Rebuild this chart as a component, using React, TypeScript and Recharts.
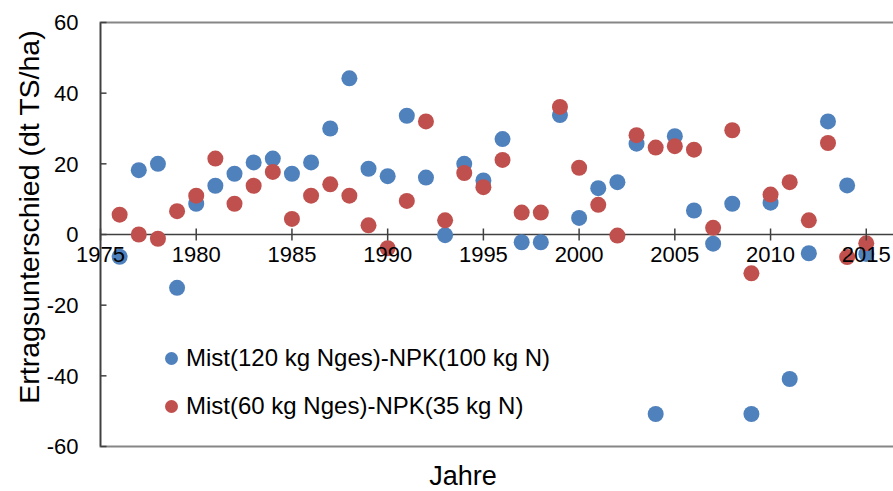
import React from 'react';
import { ScatterChart, Scatter, XAxis, YAxis, ReferenceLine, ReferenceArea } from 'recharts';

const years = [1976,1977,1978,1979,1980,1981,1982,1983,1984,1985,1986,1987,1988,1989,1990,1991,1992,1993,1994,1995,1996,1997,1998,1999,2000,2001,2002,2003,2004,2005,2006,2007,2008,2009,2010,2011,2012,2013,2014,2015];
const blueValues = [-6.3,18.2,20.0,-15.1,8.7,13.8,17.2,20.4,21.5,17.2,20.4,30.0,44.2,18.6,16.5,33.6,16.1,-0.2,20.0,15.3,27.0,-2.2,-2.2,33.8,4.7,13.1,14.8,25.7,-50.8,27.8,6.8,-2.6,8.7,-50.8,9.0,-40.9,-5.3,32.0,13.9,-5.5];
const redValues = [5.6,0.0,-1.2,6.6,11.0,21.5,8.7,13.8,17.7,4.4,11.0,14.2,11.0,2.6,-3.9,9.5,32.0,4.0,17.4,13.4,21.1,6.2,6.2,36.1,18.9,8.4,-0.3,28.1,24.6,25.0,24.0,1.9,29.5,-11.0,11.3,14.8,4.0,25.9,-6.4,-2.5];
const xTicks = [1975,1980,1985,1990,1995,2000,2005,2010,2015];
const yTicks = [-60,-40,-20,0,20,40,60];
const seriesNames = ['Mist(120 kg Nges)-NPK(100 kg N)', 'Mist(60 kg Nges)-NPK(35 kg N)'];

const BLUE = '#4F81BD';
const RED = '#C0504D';
const FONT = '"Liberation Sans", Arial, sans-serif';

const blueData = years.map((y, i) => ({ x: y, y: blueValues[i] }));
const redData = years.map((y, i) => ({ x: y, y: redValues[i] }));
// x-axis crosses at y = 0: ticks/labels placed through the scales on top of the points
const xTickData = xTicks.map((t) => ({ x: t, y: 0 }));

const W = 962;
const H = 491;
const M = { top: 22.5, right: 0, left: 40.5, bottom: 0 };
const Y_W = 60;
const X_H = 44.5;
const Y_MIN = -60;
const Y_MAX = 60;
const plotTop = M.top;
const plotH = H - M.top - M.bottom - X_H;
const plotBottomY = plotTop + plotH;

const XTickMark = (props: any) => {
  const { cx, cy, payload } = props;
  return (
    <g>
      <line x1={cx} x2={cx} y1={cy - 6} y2={cy + 6} stroke="#404040" strokeWidth={1.5} />
      <text x={cx} y={cy + 27} textAnchor="middle" fontFamily={FONT} fontSize={22} fill="#000">
        {payload.x}
      </text>
    </g>
  );
};

const YTick = (props: any) => {
  const { x, y, payload } = props;
  const axisX = x + 8;
  return (
    <g>
      <line x1={axisX} x2={axisX + 6} y1={y} y2={y} stroke="#404040" strokeWidth={1.5} />
      <text x={axisX - 22} y={y} dy="0.36em" textAnchor="end" fontFamily={FONT} fontSize={22} fill="#000">
        {payload.value}
      </text>
    </g>
  );
};

const Dot = (color: string) => (props: any) => (
  <circle cx={props.cx} cy={props.cy} r={8} fill={color} />
);

const LegendBox = () => (
  <div style={{ position: 'absolute', left: 165, top: 334, fontFamily: FONT, fontSize: 24, color: '#000', lineHeight: 1 }}>
    {[BLUE, RED].map((c, i) => (
      <div key={i} style={{ display: 'flex', alignItems: 'center', height: 48, whiteSpace: 'nowrap' }}>
        <span style={{ display: 'inline-block', width: 13, height: 13, borderRadius: '50%', background: c, marginRight: 8 }} />
        <span>{seriesNames[i]}</span>
      </div>
    ))}
  </div>
);

export default function App() {
  return (
    <div style={{ position: 'fixed', left: 0, top: 0, width: 893, height: 491, overflow: 'hidden', background: '#fff' }}>
      <ScatterChart width={W} height={H} margin={M}>
        <ReferenceArea x1={1975} x2={2020} y1={Y_MIN} y2={Y_MAX} fill="none" stroke="#868686" strokeWidth={2} ifOverflow="visible" />
        <ReferenceLine y={0} stroke="#404040" strokeWidth={1.5} />
        <XAxis
          type="number"
          dataKey="x"
          domain={[1975, 2020]}
          ticks={xTicks}
          height={X_H}
          axisLine={false}
          tickLine={false}
          tick={false}
          label={{
            content: () => (
              <text x={463} y={plotBottomY + 38} textAnchor="middle" fontFamily={FONT} fontSize={27} fill="#000">Jahre</text>
            ),
          }}
        />
        <YAxis
          type="number"
          dataKey="y"
          domain={[Y_MIN, Y_MAX]}
          ticks={yTicks}
          width={Y_W}
          axisLine={{ stroke: '#404040', strokeWidth: 1.5 }}
          tickLine={false}
          tickSize={0}
          tickMargin={8}
          tick={<YTick />}
          interval={0}
          label={{
            content: () => (
              <text x={29} y={217} transform="rotate(-90 29 217)" dy="0.36em" textAnchor="middle" fontFamily={FONT} fontSize={28.5} fill="#000">
                Ertragsunterschied (dt TS/ha)
              </text>
            ),
          }}
        />
        <Scatter name={seriesNames[0]} data={blueData} fill={BLUE} shape={Dot(BLUE)} isAnimationActive={false} />
        <Scatter name={seriesNames[1]} data={redData} fill={RED} shape={Dot(RED)} isAnimationActive={false} />
        <Scatter name="xTicks" data={xTickData} shape={XTickMark} legendType="none" isAnimationActive={false} />
      </ScatterChart>
      <LegendBox />
    </div>
  );
}
